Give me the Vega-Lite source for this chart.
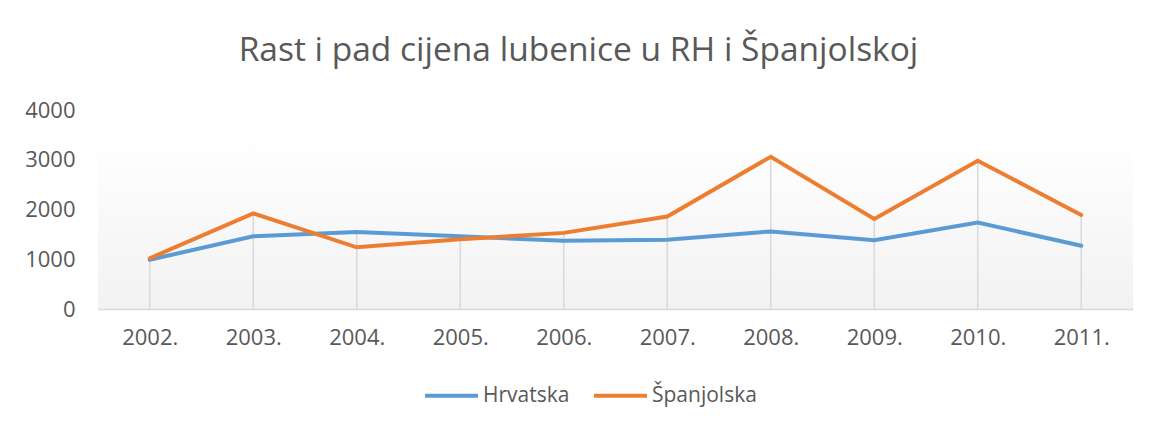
{
  "$schema": "https://vega.github.io/schema/vega-lite/v6.json",
  "width": 1035,
  "height": 199,
  "autosize": "none",
  "padding": {"left": 98, "top": 110, "right": 17, "bottom": 118},
  "background": "white",
  "title": {
    "text": "Rast i pad cijena lubenice u RH i Španjolskoj",
    "fontSize": 33.5,
    "font": "Open Sans",
    "fontWeight": "normal",
    "color": "#595959",
    "anchor": "middle",
    "frame": "group",
    "offset": 31,
    "dx": -37
  },
  "data": {
    "values": [
      {"year": "2002.", "country": "Hrvatska", "value": 990},
      {"year": "2003.", "country": "Hrvatska", "value": 1460},
      {"year": "2004.", "country": "Hrvatska", "value": 1550},
      {"year": "2005.", "country": "Hrvatska", "value": 1460},
      {"year": "2006.", "country": "Hrvatska", "value": 1370},
      {"year": "2007.", "country": "Hrvatska", "value": 1390},
      {"year": "2008.", "country": "Hrvatska", "value": 1560},
      {"year": "2009.", "country": "Hrvatska", "value": 1380},
      {"year": "2010.", "country": "Hrvatska", "value": 1740},
      {"year": "2011.", "country": "Hrvatska", "value": 1270},
      {"year": "2002.", "country": "Španjolska", "value": 1020},
      {"year": "2003.", "country": "Španjolska", "value": 1920},
      {"year": "2004.", "country": "Španjolska", "value": 1240},
      {"year": "2005.", "country": "Španjolska", "value": 1400},
      {"year": "2006.", "country": "Španjolska", "value": 1530},
      {"year": "2007.", "country": "Španjolska", "value": 1860},
      {"year": "2008.", "country": "Španjolska", "value": 3060},
      {"year": "2009.", "country": "Španjolska", "value": 1810},
      {"year": "2010.", "country": "Španjolska", "value": 2980},
      {"year": "2011.", "country": "Španjolska", "value": 1890}
    ]
  },
  "config": {
    "font": "Open Sans",
    "view": {
      "stroke": null,
      "fill": {
        "gradient": "linear",
        "x1": 0, "y1": 0, "x2": 0, "y2": 1,
        "stops": [
          {"offset": 0, "color": "#ffffff"},
          {"offset": 0.12, "color": "#ffffff"},
          {"offset": 1, "color": "#f2f2f2"}
        ]
      }
    }
  },
  "encoding": {
    "x": {
      "field": "year",
      "type": "ordinal",
      "scale": {"type": "point", "padding": 0.5},
      "axis": {
        "title": null,
        "labelAngle": 0,
        "ticks": false,
        "grid": false,
        "domainColor": "#d9d9d9",
        "domainWidth": 1.5,
        "labelFontSize": 22,
        "labelColor": "#595959",
        "labelPadding": 18
      }
    }
  },
  "layer": [
    {
      "mark": {"type": "rule", "color": "#d9d9d9", "strokeWidth": 1.5},
      "encoding": {
        "y": {"aggregate": "max", "field": "value", "type": "quantitative"},
        "y2": {"datum": 0}
      }
    },
    {
      "mark": {"type": "line", "strokeWidth": 4, "strokeCap": "round", "strokeJoin": "miter"},
      "encoding": {
        "y": {
          "field": "value",
          "type": "quantitative",
          "scale": {"domain": [0, 4000], "nice": false},
          "axis": {
            "title": null,
            "values": [0, 1000, 2000, 3000, 4000],
            "format": "d",
            "domain": false,
            "ticks": false,
            "grid": false,
            "labelFontSize": 22,
            "labelColor": "#595959",
            "labelPadding": 23
          }
        },
        "color": {
          "field": "country",
          "type": "nominal",
          "scale": {"domain": ["Hrvatska", "Španjolska"], "range": ["#5B9BD5", "#ED7D31"]},
          "legend": {
            "title": null,
            "orient": "none",
            "direction": "horizontal",
            "legendX": 325,
            "legendY": 257,
            "symbolType": "stroke",
            "symbolSize": 2800,
            "symbolStrokeWidth": 4,
            "labelFontSize": 21,
            "labelColor": "#595959",
            "labelOffset": 3,
            "columnPadding": 16
          }
        }
      }
    }
  ]
}
